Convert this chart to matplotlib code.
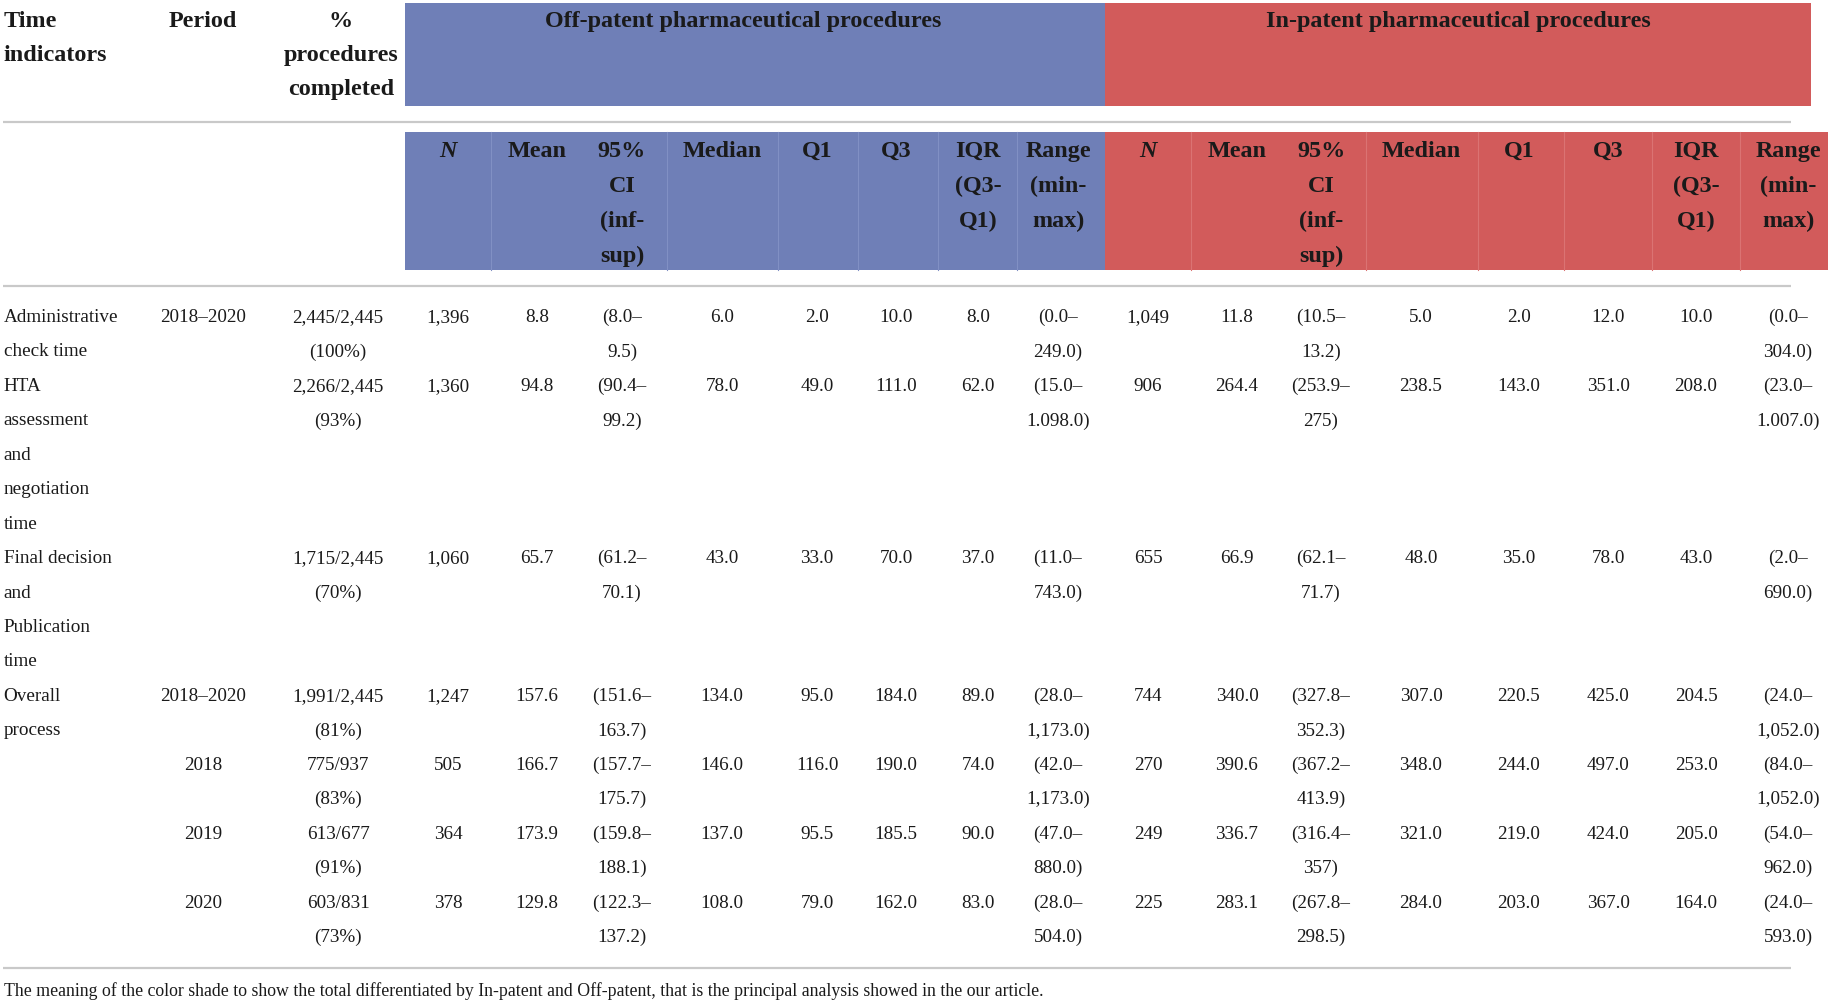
import matplotlib
matplotlib.use("Agg")
import matplotlib.pyplot as plt
from matplotlib.patches import Rectangle

# ---------------- data ----------------
indicators = [["Administrative", "check time"],
              ["HTA", "assessment", "and", "negotiation", "time"],
              ["Final decision", "and", "Publication", "time"],
              ["Overall", "process"], [], [], []]
periods = ["2018–2020", "", "", "2018–2020", "2018", "2019", "2020"]
completed_n = ["2,445/2,445", "2,266/2,445", "1,715/2,445", "1,991/2,445", "775/937", "613/677", "603/831"]
completed_pct = ["(100%)", "(93%)", "(70%)", "(81%)", "(83%)", "(91%)", "(73%)"]

off_N = ["1,396", "1,360", "1,060", "1,247", "505", "364", "378"]
off_mean = ["8.8", "94.8", "65.7", "157.6", "166.7", "173.9", "129.8"]
off_ci_low = ["8.0", "90.4", "61.2", "151.6", "157.7", "159.8", "122.3"]
off_ci_high = ["9.5", "99.2", "70.1", "163.7", "175.7", "188.1", "137.2"]
off_median = ["6.0", "78.0", "43.0", "134.0", "146.0", "137.0", "108.0"]
off_q1 = ["2.0", "49.0", "33.0", "95.0", "116.0", "95.5", "79.0"]
off_q3 = ["10.0", "111.0", "70.0", "184.0", "190.0", "185.5", "162.0"]
off_iqr = ["8.0", "62.0", "37.0", "89.0", "74.0", "90.0", "83.0"]
off_rng_low = ["0.0", "15.0", "11.0", "28.0", "42.0", "47.0", "28.0"]
off_rng_high = ["249.0", "1.098.0", "743.0", "1,173.0", "1,173.0", "880.0", "504.0"]

in_N = ["1,049", "906", "655", "744", "270", "249", "225"]
in_mean = ["11.8", "264.4", "66.9", "340.0", "390.6", "336.7", "283.1"]
in_ci_low = ["10.5", "253.9", "62.1", "327.8", "367.2", "316.4", "267.8"]
in_ci_high = ["13.2", "275", "71.7", "352.3", "413.9", "357", "298.5"]
in_median = ["5.0", "238.5", "48.0", "307.0", "348.0", "321.0", "284.0"]
in_q1 = ["2.0", "143.0", "35.0", "220.5", "244.0", "219.0", "203.0"]
in_q3 = ["12.0", "351.0", "78.0", "425.0", "497.0", "424.0", "367.0"]
in_iqr = ["10.0", "208.0", "43.0", "204.5", "253.0", "205.0", "164.0"]
in_rng_low = ["0.0", "23.0", "2.0", "24.0", "84.0", "54.0", "24.0"]
in_rng_high = ["304.0", "1.007.0", "690.0", "1,052.0", "1,052.0", "962.0", "593.0"]

group_titles = ["Off-patent pharmaceutical procedures", "In-patent pharmaceutical procedures"]
sub_headers = [["N"], ["Mean"], ["95%", "CI", "(inf-", "sup)"], ["Median"], ["Q1"], ["Q3"],
               ["IQR", "(Q3-", "Q1)"], ["Range", "(min-", "max)"]]
footnote = ("The meaning of the color shade to show the total differentiated by In-patent and "
            "Off-patent, that is the principal analysis showed in the our article.")

# ---------------- layout ----------------
W, H = 1830, 1003
BLUE = "#6F7FB7"
RED = "#D25B5B"
BLUE_SEP = "#8190C4"
RED_SEP = "#DB7373"
GRAY = "#C9C9C9"
TXT = "#1A1A1A"
FONT = ["Liberation Serif", "DejaVu Serif"]
DATA_FS = 13.8
HEAD_FS = 17.4

fig = plt.figure(figsize=(W / 100, H / 100), dpi=100)
ax = fig.add_axes([0, 0, 1, 1])
ax.set_xlim(0, W)
ax.set_ylim(H, 0)
ax.axis("off")

off_cx = [448, 537, 622, 722, 817, 896, 978, 1058]
in_cx = [1148, 1237, 1321, 1421, 1519, 1608, 1696, 1788]
off_sep = [491, 667, 778, 858, 938, 1017]
in_sep = [1191, 1366, 1478, 1564, 1652, 1740]
period_x = 203
comp_x = 338
ind_x = 3.5

# header boxes
ax.add_patch(Rectangle((405, 3.5), 1104.5 - 405, 103, facecolor=BLUE, edgecolor="none"))
ax.add_patch(Rectangle((1104.5, 3.5), 1811 - 1104.5, 103, facecolor=RED, edgecolor="none"))
ax.add_patch(Rectangle((405, 133), 1104.5 - 405, 138, facecolor=BLUE, edgecolor="none"))
ax.add_patch(Rectangle((1104.5, 133), 1828 - 1104.5, 138, facecolor=RED, edgecolor="none"))
for x in off_sep:
    ax.plot([x, x], [133, 271], color=BLUE_SEP, lw=0.8)
for x in in_sep:
    ax.plot([x, x], [133, 271], color=RED_SEP, lw=0.8)

# gray rules
for y in (122.5, 287, 969):
    ax.plot([3, 1791], [y, y], color=GRAY, lw=1.6, solid_capstyle="butt")

def txt(x, y, s, ha="center", fs=DATA_FS, bold=False, italic=False):
    ax.text(x, y, s, ha=ha, va="center", fontsize=fs, color=TXT, family=FONT,
            fontweight="bold" if bold else "normal",
            fontstyle="italic" if italic else "normal")

# top header text
HL = 34.0
for i, s in enumerate(["Time", "indicators"]):
    txt(ind_x, 21 + i * HL, s, ha="left", fs=HEAD_FS, bold=True)
txt(period_x, 21, "Period", fs=HEAD_FS, bold=True)
for i, s in enumerate(["%", "procedures", "completed"]):
    txt(341, 21 + i * HL, s, fs=HEAD_FS, bold=True)
txt(743, 21, group_titles[0], fs=HEAD_FS, bold=True)
txt(1458, 21, group_titles[1], fs=HEAD_FS, bold=True)

# sub headers
for cxs in (off_cx, in_cx):
    for cx, lines in zip(cxs, sub_headers):
        for i, s in enumerate(lines):
            txt(cx, 151 + i * 35, s, fs=HEAD_FS, bold=True, italic=(s == "N"))

# data rows
LINE0 = 317.5
LH = 34.45
line = 0
for r in range(len(periods)):
    cells = [
        (period_x, [periods[r]] if periods[r] else []),
        (comp_x, [completed_n[r], completed_pct[r]]),
        (off_cx[0], [off_N[r]]),
        (off_cx[1], [off_mean[r]]),
        (off_cx[2], ["(" + off_ci_low[r] + "–", off_ci_high[r] + ")"]),
        (off_cx[3], [off_median[r]]),
        (off_cx[4], [off_q1[r]]),
        (off_cx[5], [off_q3[r]]),
        (off_cx[6], [off_iqr[r]]),
        (off_cx[7], ["(" + off_rng_low[r] + "–", off_rng_high[r] + ")"]),
        (in_cx[0], [in_N[r]]),
        (in_cx[1], [in_mean[r]]),
        (in_cx[2], ["(" + in_ci_low[r] + "–", in_ci_high[r] + ")"]),
        (in_cx[3], [in_median[r]]),
        (in_cx[4], [in_q1[r]]),
        (in_cx[5], [in_q3[r]]),
        (in_cx[6], [in_iqr[r]]),
        (in_cx[7], ["(" + in_rng_low[r] + "–", in_rng_high[r] + ")"]),
    ]
    for i, s in enumerate(indicators[r]):
        txt(ind_x, LINE0 + (line + i) * LH, s, ha="left")
    nmax = max([len(indicators[r])] + [len(c[1]) for c in cells])
    for cx, lines in cells:
        for i, s in enumerate(lines):
            txt(cx, LINE0 + (line + i) * LH, s)
    line += nmax

txt(ind_x, 991, footnote, ha="left", fs=12.8)

fig.savefig("out.png", dpi=100)
